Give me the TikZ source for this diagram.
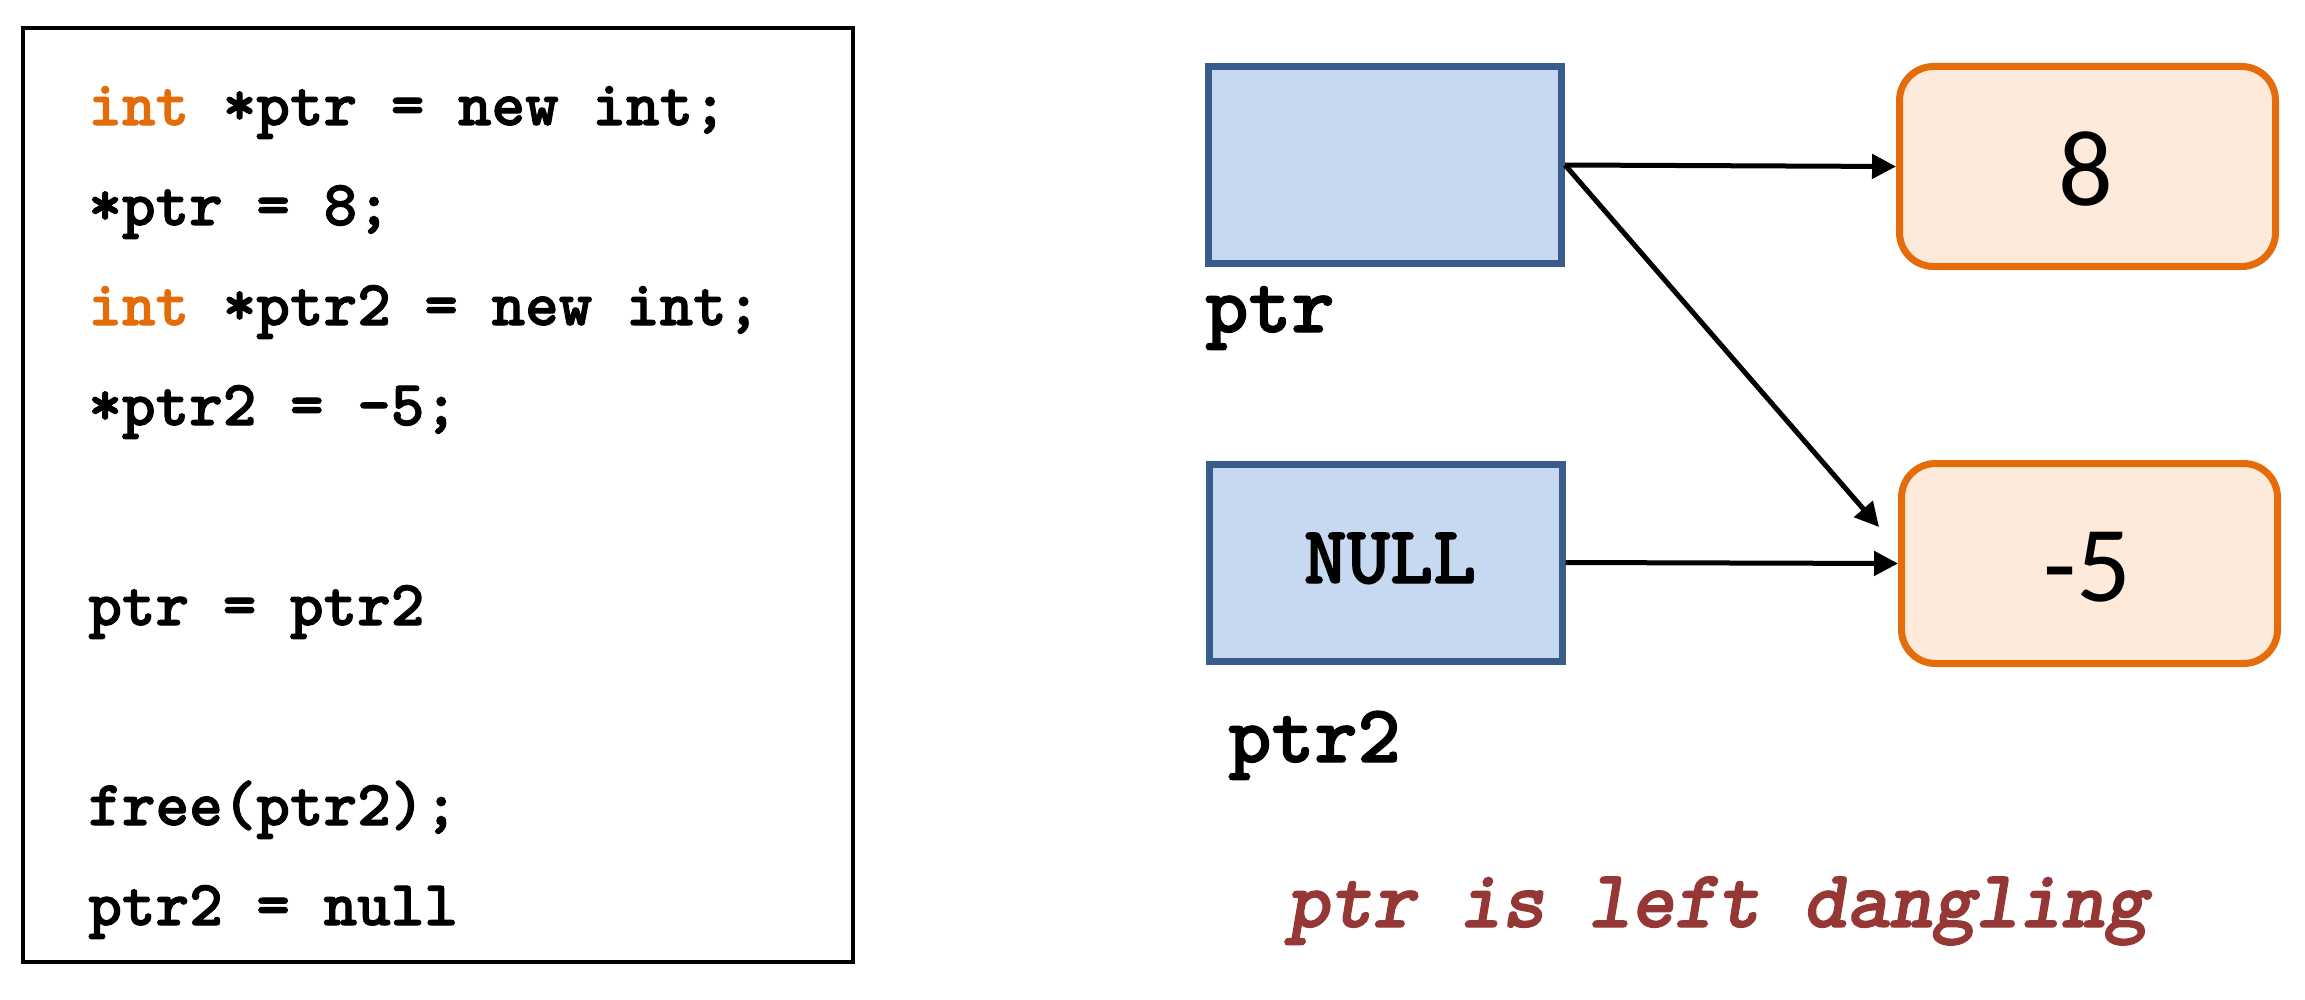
\documentclass[tikz,border=0pt]{standalone}
\usepackage{fontspec}
\newfontfamily\numfont{Carlito}
\newfontfamily\codefont{lmmonolt10-bold.otf}[FakeBold=1.6]
\newfontfamily\capfont{lmmonolt10-boldoblique.otf}[FakeBold=1.6]
\usetikzlibrary{arrows.meta}
\definecolor{kworange}{HTML}{E36C09}
\definecolor{ptrfill}{HTML}{C6D9F1}
\definecolor{ptrdraw}{HTML}{385D8A}
\definecolor{valfill}{HTML}{FDEADA}
\definecolor{valdraw}{HTML}{E46C0A}
\definecolor{capred}{HTML}{953735}
\tikzset{
  codeline/.style={font=\codefont\fontsize{32}{38}\selectfont, inner sep=0pt, anchor=base west},
  lbl/.style={font=\codefont\fontsize{41}{48}\selectfont, inner sep=0pt},
  ptrbox/.style={draw=ptrdraw, fill=ptrfill, line width=3.5pt, minimum width=176.5pt, minimum height=98.5pt, inner sep=0pt},
  valbox/.style={draw=valdraw, fill=valfill, line width=3.5pt, rounded corners=17pt, minimum width=188pt, minimum height=100pt, inner sep=0pt},
  valtxt/.style={font=\numfont\fontsize{54}{62}\selectfont, inner sep=0pt},
  link/.style={line width=2.5pt, -{Triangle[length=12pt,width=12pt]}}
}
\begin{document}
\begin{tikzpicture}[x=0.5pt,y=-0.5pt]
\useasboundingbox (0,0) rectangle (2305,1000);
% code frame
\node (codebox) [draw, line width=1.7pt, minimum width=415pt, minimum height=467pt, inner sep=0pt] at (438,495) {};
\node (c1) [codeline] at (88,125) {\textcolor{kworange}{int} *ptr = new int;};
\node (c2) [codeline] at (88,225) {*ptr = 8;};
\node (c3) [codeline] at (88,325) {\textcolor{kworange}{int} *ptr2 = new int;};
\node (c4) [codeline] at (88,425) {*ptr2 = -5;};
\node (c5) [codeline] at (88,625) {ptr = ptr2};
\node (c6) [codeline] at (88,825) {free(ptr2);};
\node (c7) [codeline] at (88,925) {ptr2 = null};
% memory boxes
\node (p1) [ptrbox] at (1385,165) {};
\node (p2) [ptrbox] at (1385.5,562.5) {};
\node (nulltxt) [lbl, anchor=base] at (1390,583) {NULL};
\node (v1) [valbox] at (2087.5,166.5) {};
\node (v2) [valbox] at (2089.5,563.5) {};
\node (v1t) [valtxt] at (2086,169) {8};
\node (v2t) [valtxt] at (2087,567) {-5};
% labels
\node (l1) [lbl, anchor=base west] at (1205,332) {ptr};
\node (l2) [lbl, anchor=base west] at (1228,762) {ptr2};
\node (cap) [lbl, anchor=base, text=capred, font=\capfont\fontsize{41}{48}\selectfont] at (1717,927) {ptr is left dangling};
% arrows
\coordinate (dang) at (1879,527);
\draw[link] (p1.east) -- (v1.west);
\draw[link] (p1.east) -- (dang);
\draw[link] (p2.east) -- (v2.west);
\end{tikzpicture}
\end{document}
